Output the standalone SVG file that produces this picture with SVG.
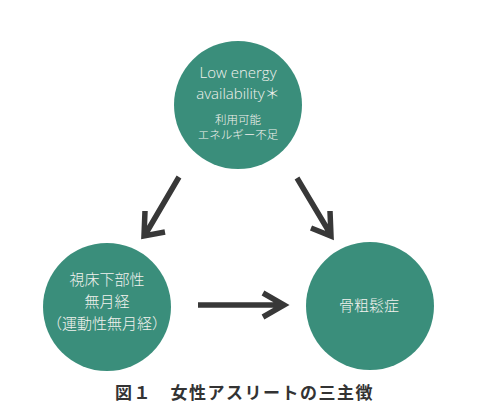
<svg xmlns="http://www.w3.org/2000/svg" width="480" height="413" viewBox="0 0 480 413">
<style>
.c{fill:#3a8e7b}
.t{fill:#f2f2ee;font-family:"Open Sans","Noto Sans CJK JP",sans-serif;text-anchor:middle;font-weight:300}
.a{fill:none;stroke:#383838;stroke-width:5.5;stroke-linecap:butt;stroke-linejoin:miter}
.cap{fill:#333;font-family:"Noto Sans CJK JP",sans-serif;font-weight:bold;font-size:17px}
</style>
<rect width="480" height="413" fill="#fff"/>
<g id="top">
<circle class="c" cx="238" cy="105" r="64"/>
<text class="t" x="238" y="78" font-size="15">Low energy</text>
<text class="t" x="238" y="99" font-size="15">availability＊</text>
<text class="t" x="238" y="124" font-size="11.5">利用可能</text>
<text class="t" x="238" y="139" font-size="11.5">エネルギー不足</text>
</g>
<g id="left">
<circle class="c" cx="107" cy="307" r="64"/>
<text class="t" x="107" y="285" font-size="15">視床下部性</text>
<text class="t" x="107" y="307" font-size="15">無月経</text>
<text class="t" x="107" y="329" font-size="15">（運動性無月経）</text>
</g>
<g id="right">
<circle class="c" cx="370" cy="306" r="64"/>
<text class="t" x="369" y="311" font-size="15">骨粗鬆症</text>
</g>
<g id="connectors">
<path class="a" d="M179,177 L145,235 M145,211 L144,236 L165,232"/>
<path class="a" d="M297,178 L331,235 M330,211 L331,236 L311,228"/>
<path class="a" d="M198,305 L283,305 M263,293 L284,305 L263,317"/>
</g>
<text class="cap" x="115" y="399" letter-spacing="1.5">図１　女性アスリートの三主徴</text>
</svg>
